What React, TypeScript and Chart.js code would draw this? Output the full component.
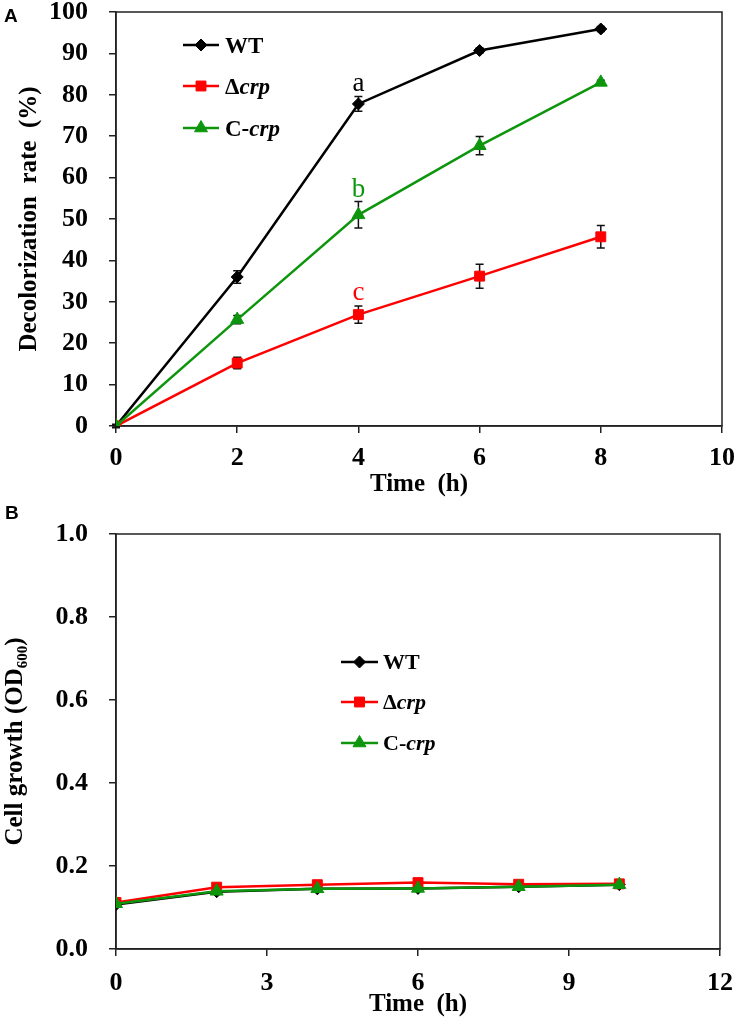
import React, { useEffect, useRef } from "react";
import { Chart, registerables } from "chart.js";
import { drawPoint } from "chart.js/helpers";

Chart.register(...registerables);

// ---------- Data: panel A (decolorization) ----------
const timeA = [0, 2, 4, 6, 8];
const wtA = [0, 36.0, 77.8, 90.7, 95.9];
const wtErrA = [0.4, 1.5, 1.8, 0.6, 0.6];
const crpA = [0, 15.2, 26.9, 36.2, 45.7];
const crpErrA = [0.3, 1.4, 2.1, 2.9, 2.7];
const ccrpA = [0, 25.7, 51.0, 67.7, 83.0];
const ccrpErrA = [0.3, 1.0, 3.2, 2.2, 0.5];
const sigLetters = ["a", "c", "b"];
const sigY = [80.9, 30.4, 55.3];
const sigX = 4;
const yTicksA = [0, 10, 20, 30, 40, 50, 60, 70, 80, 90, 100];
const xTicksA = [0, 2, 4, 6, 8, 10];

// ---------- Data: panel B (cell growth) ----------
const timeB = [0, 2, 4, 6, 8, 10];
const wtB = [0.107, 0.138, 0.145, 0.146, 0.150, 0.155];
const crpB = [0.112, 0.149, 0.155, 0.160, 0.156, 0.157];
const ccrpB = [0.109, 0.139, 0.145, 0.146, 0.150, 0.155];
const yTicksB = [0, 0.2, 0.4, 0.6, 0.8, 1.0];
const xTicksB = [0, 3, 6, 9, 12];

const seriesNames = ["WT", "\u0394crp", "C-crp"];
const legendUpright = ["WT", "\u0394", "C-"];
const legendItalic = ["", "crp", "crp"];

const BLACK = "#000000";
const RED = "#ff0000";
const GREEN = "#0d960d";
const SERIF = "'Liberation Serif', 'Times New Roman', serif";

const pts = (xs: number[], ys: number[]) => xs.map((x, i) => ({ x, y: ys[i] }));

const styles = [
  { color: BLACK, pointStyle: "rectRot", radius: 6 },
  { color: RED, pointStyle: "rect", radius: 7 },
  { color: GREEN, pointStyle: "triangle", radius: 7.5 },
];

const frameAndErrors = {
  id: "frameAndErrors",
  beforeDatasetsDraw(chart: any) {
    const { ctx, chartArea } = chart;
    ctx.save();
    ctx.strokeStyle = "#222";
    ctx.lineWidth = 1.5;
    ctx.strokeRect(chartArea.left, chartArea.top, chartArea.right - chartArea.left, chartArea.bottom - chartArea.top);
    const ys = chart.scales.y;
    chart.data.datasets.forEach((ds: any, di: number) => {
      if (!ds.errors) return;
      const meta = chart.getDatasetMeta(di);
      meta.data.forEach((pt: any, i: number) => {
        const v = ds.data[i].y;
        const e = ds.errors[i];
        if (!e) return;
        const y1 = ys.getPixelForValue(v + e);
        const y2 = ys.getPixelForValue(v - e);
        ctx.strokeStyle = "#111";
        ctx.lineWidth = 1.5;
        ctx.beginPath();
        ctx.moveTo(pt.x, y1);
        ctx.lineTo(pt.x, y2);
        ctx.moveTo(pt.x - 4, y1);
        ctx.lineTo(pt.x + 4, y1);
        ctx.moveTo(pt.x - 4, y2);
        ctx.lineTo(pt.x + 4, y2);
        ctx.stroke();
      });
    });
    ctx.restore();
  },
};

const customLegend = {
  id: "customLegend",
  afterDraw(chart: any, _args: any, opts: any) {
    if (!opts || !opts.rows) return;
    const { ctx } = chart;
    ctx.save();
    chart.data.datasets.forEach((ds: any, i: number) => {
      const y = opts.rows[i];
      ctx.strokeStyle = ds.borderColor;
      ctx.lineWidth = 2.5;
      ctx.beginPath();
      ctx.moveTo(opts.x0, y);
      ctx.lineTo(opts.x1, y);
      ctx.stroke();
      ctx.fillStyle = ds.pointBackgroundColor;
      ctx.strokeStyle = ds.borderColor;
      ctx.lineWidth = 1;
      drawPoint(ctx, { pointStyle: ds.pointStyle, radius: ds.pointRadius, rotation: 0, borderWidth: 1 }, (opts.x0 + opts.x1) / 2, y);
      ctx.fillStyle = "#000";
      ctx.textBaseline = "alphabetic";
      ctx.textAlign = "left";
      ctx.font = `bold ${opts.size}px ${SERIF}`;
      const up = legendUpright[i];
      ctx.fillText(up, opts.tx, y + opts.size * 0.34);
      const w = ctx.measureText(up).width;
      if (legendItalic[i]) {
        ctx.font = `italic bold ${opts.size}px ${SERIF}`;
        ctx.fillText(legendItalic[i], opts.tx + w, y + opts.size * 0.34);
      }
    });
    ctx.restore();
  },
};

const sigPlugin = {
  id: "sigLetters",
  afterDraw(chart: any, _args: any, opts: any) {
    if (!opts || !opts.show) return;
    const { ctx } = chart;
    ctx.save();
    ctx.font = `27px ${SERIF}`;
    ctx.textAlign = "center";
    ctx.textBaseline = "alphabetic";
    const cols = [BLACK, RED, GREEN];
    sigLetters.forEach((l, i) => {
      ctx.fillStyle = cols[i];
      ctx.fillText(l, chart.scales.x.getPixelForValue(sigX), chart.scales.y.getPixelForValue(sigY[i]));
    });
    ctx.restore();
  },
};

function makeDatasets(xs: number[], series: number[][], errs: (number[] | null)[]) {
  return series.map((s, i) => ({
    label: seriesNames[i],
    data: pts(xs, s),
    errors: errs[i],
    borderColor: styles[i].color,
    backgroundColor: styles[i].color,
    pointBackgroundColor: styles[i].color,
    pointBorderColor: styles[i].color,
    pointStyle: styles[i].pointStyle,
    pointRadius: styles[i].radius,
    pointBorderWidth: 1,
    borderWidth: 2.5,
    tension: 0,
    order: 2 - i,
  }));
}

const zeroPad = (s: any) => {
  s.paddingTop = 0;
  s.paddingBottom = 0;
  s.paddingLeft = 0;
  s.paddingRight = 0;
};

function axisOptions(cfg: any) {
  const tickFont = { family: SERIF, size: 26, weight: "bold" as const };
  return {
    x: {
      type: "linear",
      min: cfg.xMin,
      max: cfg.xMax,
      afterBuildTicks: (s: any) => { s.ticks = cfg.xTicks.map((v: number) => ({ value: v })); },
      afterFit: (s: any) => { s.height = cfg.xHeight; zeroPad(s); },
      ticks: { color: "#000", font: tickFont, padding: cfg.xTickPad, maxRotation: 0, autoSkip: false },
      grid: { drawOnChartArea: false, drawTicks: true, tickLength: 7, color: "#222", lineWidth: 1.5 },
      border: { display: true, color: "#222", width: 1.5 },
      title: { display: true, text: "Time  (h)", color: "#000", font: { family: SERIF, size: 25, weight: "bold" }, padding: { top: 0, bottom: cfg.xTitlePad } },
    },
    y: {
      type: "linear",
      min: cfg.yMin,
      max: cfg.yMax,
      afterBuildTicks: (s: any) => { s.ticks = cfg.yTicks.map((v: number) => ({ value: v })); },
      afterFit: (s: any) => { s.width = 116; zeroPad(s); },
      ticks: { color: "#000", font: tickFont, padding: 21, callback: cfg.yFmt, autoSkip: false },
      grid: { drawOnChartArea: false, drawTicks: true, tickLength: 7, color: "#222", lineWidth: 1.5 },
      border: { display: true, color: "#222", width: 1.5 },
      title: { display: true, text: cfg.yTitle, color: "#000", font: { family: SERIF, size: 25, weight: "bold" }, padding: { top: cfg.yTitlePad, bottom: 0 } },
    },
  };
}

function useChart(ref: React.RefObject<HTMLCanvasElement>, build: () => any) {
  useEffect(() => {
    if (!ref.current) return;
    const chart = new Chart(ref.current, build());
    return () => chart.destroy();
  }, []);
}

export default function App() {
  const refA = useRef<HTMLCanvasElement>(null);
  const refB = useRef<HTMLCanvasElement>(null);

  useEffect(() => {
    document.body.style.margin = "0";
  }, []);

  useChart(refA, () => ({
    type: "line",
    data: { datasets: makeDatasets(timeA, [wtA, crpA, ccrpA], [wtErrA, crpErrA, ccrpErrA]) },
    options: {
      animation: false,
      responsive: false,
      devicePixelRatio: 1,
      layout: { padding: { left: 0, top: 12, right: 17, bottom: 0 } },
      scales: axisOptions({
        xMin: 0, xMax: 10, xTicks: xTicksA, xHeight: 74, xTickPad: 10, xTitlePad: 0,
        yMin: 0, yMax: 100, yTicks: yTicksA, yTitle: "Decolorization  rate  (%)", yTitlePad: 15,
        yFmt: (v: number) => String(v),
      }),
      plugins: {
        legend: { display: false },
        tooltip: { enabled: false },
        customLegend: { rows: [45, 86, 128], x0: 183, x1: 219, tx: 225, size: 23 },
        sigLetters: { show: true },
      },
    },
    plugins: [frameAndErrors, customLegend, sigPlugin],
  }));

  useChart(refB, () => ({
    type: "line",
    data: { datasets: makeDatasets(timeB, [wtB, crpB, ccrpB], [null, null, null]) },
    options: {
      animation: false,
      responsive: false,
      devicePixelRatio: 1,
      layout: { padding: { left: 0, top: 34, right: 19, bottom: 0 } },
      scales: axisOptions({
        xMin: 0, xMax: 12, xTicks: xTicksB, xHeight: 76, xTickPad: 12, xTitlePad: 5,
        yMin: 0, yMax: 1, yTicks: yTicksB, yTitle: "Cell growth (OD\u2086\u2080\u2080)", yTitlePad: 1,
        yFmt: (v: number) => Number(v).toFixed(1),
      }),
      plugins: {
        legend: { display: false },
        tooltip: { enabled: false },
        customLegend: { rows: [162, 202, 243], x0: 341, x1: 378, tx: 383, size: 22 },
        sigLetters: { show: false },
      },
    },
    plugins: [frameAndErrors, customLegend, sigPlugin],
  }));

  const panelLabel: React.CSSProperties = {
    position: "absolute",
    fontFamily: "'Liberation Sans', Arial, sans-serif",
    fontWeight: "bold",
    fontSize: 19,
    lineHeight: "19px",
    margin: 0,
  };

  return (
    <div style={{ position: "absolute", left: 0, top: 0, width: 739, height: 1025, background: "#fff" }}>
      <canvas ref={refA} width={739} height={500} style={{ position: "absolute", left: 0, top: 0, width: 739, height: 500 }} />
      <canvas ref={refB} width={739} height={525} style={{ position: "absolute", left: 0, top: 500, width: 739, height: 525 }} />
      <div style={{ ...panelLabel, left: 4, top: 6 }}>A</div>
      <div style={{ ...panelLabel, left: 5, top: 503 }}>B</div>
    </div>
  );
}
